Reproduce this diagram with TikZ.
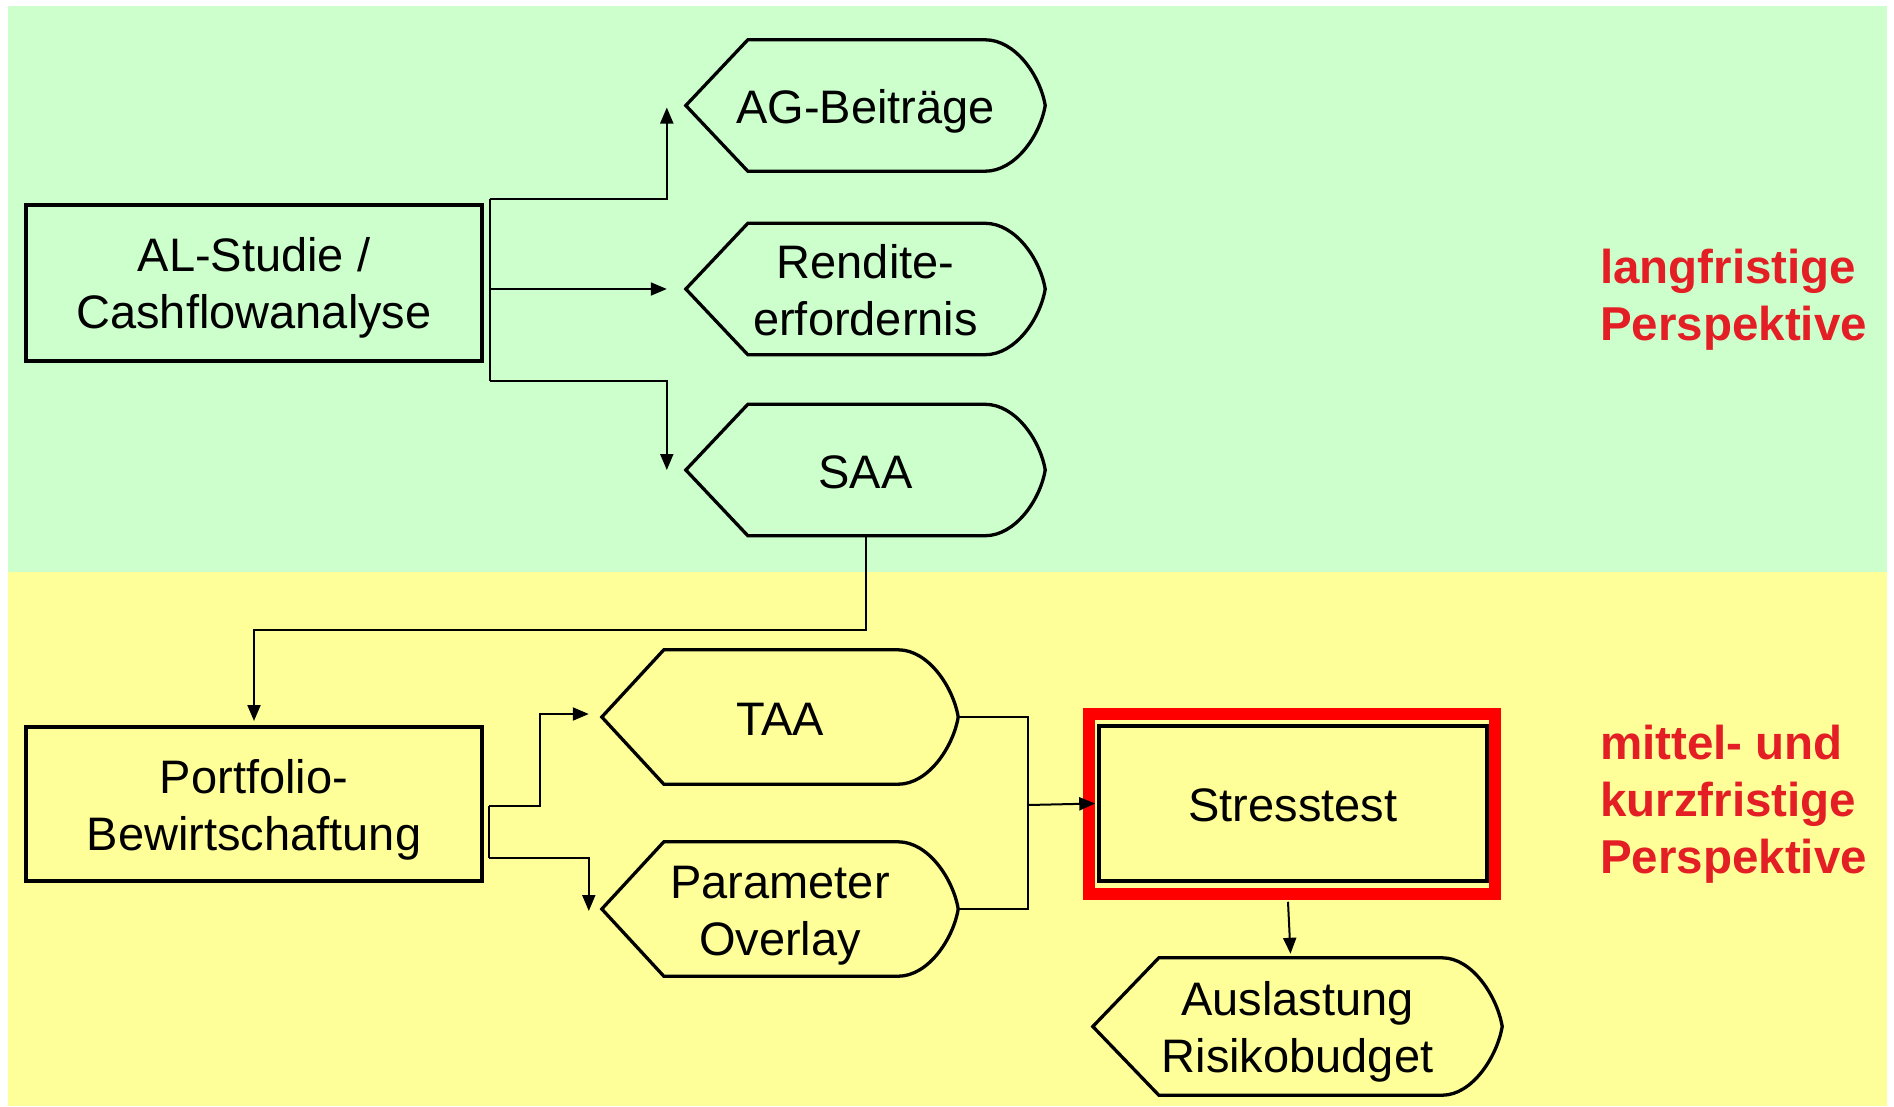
\documentclass[tikz,border=0pt]{standalone}
\usepackage{fontspec}
\setmainfont{Liberation Sans}
\usetikzlibrary{arrows.meta,calc}
\definecolor{longbg}{HTML}{CCFFCC}
\definecolor{shortbg}{HTML}{FFFF99}
\definecolor{perspred}{HTML}{E31E24}
\newcommand\boxfont{\fontsize{47}{57}\selectfont}
\newcommand\perspfont{\fontsize{47.5}{57}\selectfont\bfseries}
% fixed line box so that every text line is centred the same way
\newcommand\lstrut{\rule[-9pt]{0pt}{54pt}}
% outline of a display shape: pointed left side, rounded right side
\newcommand\dispoutline[2][62]{%
  \draw[displine] (#2.west) -- ($(#2.north west)+(#1,0)$)
    -- ($(#2.north east)+(-60,0)$)
    .. controls ($(#2.north east)+(-30,0)$) and ($(#2.east)+(-5,-30)$) .. (#2.east)
    .. controls ($(#2.east)+(-5,30)$) and ($(#2.south east)+(-30,0)$) .. ($(#2.south east)+(-60,0)$)
    -- ($(#2.south west)+(#1,0)$) -- cycle;}
\begin{document}
\begin{tikzpicture}[x=1pt,y=-1pt,
  procbox/.style={draw=black, line width=4pt, minimum width=456pt, minimum height=156pt,
    inner sep=0pt, align=center, font=\boxfont},
  stressbox/.style={draw=black, line width=3.5pt, minimum width=388pt, minimum height=155pt,
    inner sep=0pt, align=center, font=\boxfont},
  disp/.style 2 args={inner sep=0pt, align=center, font=\boxfont,
    minimum width=#1, minimum height=#2},
  displine/.style={draw=black, line width=3.3pt, line join=miter},
  conn/.style={draw=black, line width=2pt, -{Triangle[length=16pt,width=13pt]}},
  link/.style={draw=black, line width=2pt},
  persp/.style={anchor=west, align=left, inner sep=0pt, text=perspred, font=\perspfont}]

\useasboundingbox (0,0) rectangle (1894,1106);
\fill[white] (0,0) rectangle (1894,1106);
\fill[longbg] (8,6) rectangle (1887,572);
\fill[shortbg] (8,572) rectangle (1887,1106);

% long-term level
\node[procbox] (al) at (254,282.5) {\lstrut AL-Studie /\\\lstrut Cashflowanalyse};
\node[disp={359pt}{131pt}] (ag) at (865.5,105.5) {\lstrut AG-Beiträge};
\node[disp={359pt}{131pt}] (rend) at (865.5,289) {\lstrut Rendite-\\\lstrut erfordernis};
\node[disp={359pt}{131pt}] (saa) at (865.5,470) {\lstrut SAA};
\dispoutline{ag}
\dispoutline{rend}
\dispoutline{saa}

% medium and short-term level
\node[procbox, minimum height=154pt] (pf) at (254,804) {\lstrut Portfolio-\\\lstrut Bewirtschaftung};
\node[disp={356pt}{134pt}] (taa) at (780,717) {\lstrut TAA};
\node[disp={356pt}{134pt}] (po) at (780,909) {\lstrut Parameter\\\lstrut Overlay};
\draw[red, line width=12pt] (1089,714) rectangle (1495,894);
\node[stressbox] (st) at (1293,803.5) {\lstrut Stresstest};
\node[disp={409pt}{137pt}] (au) at (1297.5,1026.5) {\lstrut Auslastung\\\lstrut Risikobudget};
\dispoutline{taa}
\dispoutline{po}
\dispoutline[66]{au}

% perspective labels
\node[persp] (lang) at (1600,300) {langfristige\\Perspektive};
\node[persp] (kurz) at (1600,804) {mittel- und\\kurzfristige\\Perspektive};

% connectors of the AL study
\coordinate (j1) at ($(al.east)+(6,0)$);
\draw[link] ($(j1)+(0,-84)$) -- ($(j1)+(0,98)$);
\draw[conn] ($(j1)+(0,-84)$) -| ($(ag.west)+(-19,2)$);
\draw[conn] (j1 |- rend.west) -- ($(rend.west)+(-19,0)$);
\draw[conn] ($(j1)+(0,98)$) -| ($(saa.west)+(-19,0)$);

% SAA feeds the portfolio management
\draw[conn] (saa.south) -- ++(0,94) -| ($(pf.north)+(0,-4)$);

% portfolio management branches
\coordinate (j2) at ($(pf.east)+(5,2)$);
\draw[link] (j2) -- ($(j2)+(0,52)$);
\draw[conn] (j2) -- ++(51,0) |- ($(taa.west)+(-13,-3)$);
\draw[conn] ($(j2)+(0,52)$) -| ($(po.west)+(-13,2)$);

% inputs of the stress test
\coordinate (j3) at (1028,805);
\draw[link] (taa.east) -| (j3);
\draw[link] (po.east) -| (j3);
\draw[conn] (j3) -- ($(st.west)+(-2,0)$);

% stress test result
\draw[conn] ($(st.south)+(-5,19)$) -- ($(au.north)+(-7,-4)$);
\end{tikzpicture}
\end{document}
